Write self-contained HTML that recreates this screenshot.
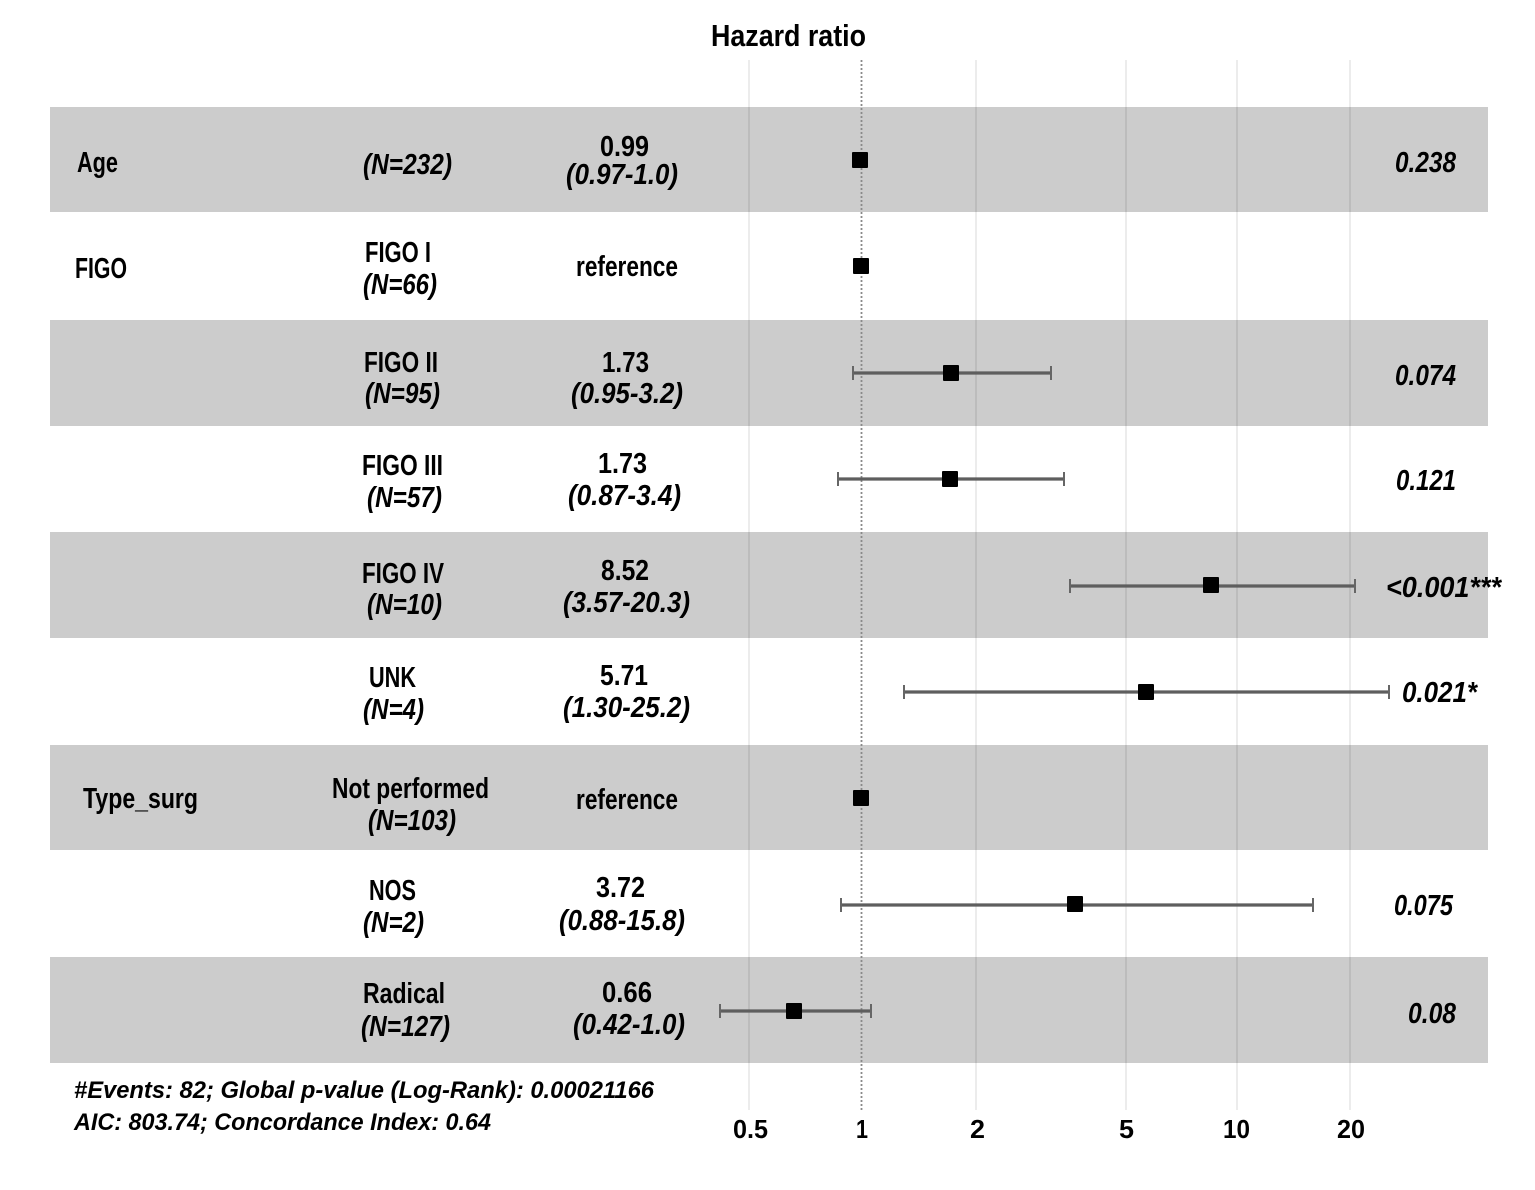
<!DOCTYPE html>
<html>
<head>
<meta charset="utf-8">
<style>
html,body{margin:0;padding:0;background:#fff;}
svg{display:block;}
text{font-family:"Liberation Sans Narrow","Liberation Sans",sans-serif;font-weight:bold;fill:#000;}
.i{font-style:italic;}
</style>
</head>
<body>
<svg width="1535" height="1190" viewBox="0 0 1535 1190" xmlns="http://www.w3.org/2000/svg">
<rect x="0" y="0" width="1535" height="1190" fill="#fff"/>
<!-- bands -->
<g fill="#cccccc">
<rect x="50" y="107" width="1438" height="105"/>
<rect x="50" y="320" width="1438" height="106"/>
<rect x="50" y="532" width="1438" height="106"/>
<rect x="50" y="745" width="1438" height="105"/>
<rect x="50" y="957" width="1438" height="106"/>
</g>
<!-- grid -->
<g stroke="rgba(0,0,0,0.1)" stroke-width="1.5">
<line x1="749" y1="60" x2="749" y2="1110"/>
<line x1="976" y1="60" x2="976" y2="1110"/>
<line x1="1126" y1="60" x2="1126" y2="1110"/>
<line x1="1237" y1="60" x2="1237" y2="1110"/>
<line x1="1350" y1="60" x2="1350" y2="1110"/>
</g>
<line x1="861.5" y1="60" x2="861.5" y2="1110" stroke="#8a8a8a" stroke-width="1.8" stroke-dasharray="2,2"/>

<!-- error bars -->
<g stroke="#5e5e5e" stroke-width="3.2" fill="none">
<line x1="853" y1="373" x2="1051" y2="373"/>
<line x1="838" y1="479" x2="1064" y2="479"/>
<line x1="1070" y1="586" x2="1355" y2="586"/>
<line x1="904" y1="692" x2="1389" y2="692"/>
<line x1="841" y1="905" x2="1313" y2="905"/>
<line x1="720" y1="1011" x2="871" y2="1011"/>
</g>
<g stroke="#666" stroke-width="2" fill="none">
<line x1="853" y1="366" x2="853" y2="380"/><line x1="1051" y1="366" x2="1051" y2="380"/>
<line x1="838" y1="472" x2="838" y2="486"/><line x1="1064" y1="472" x2="1064" y2="486"/>
<line x1="1070" y1="579" x2="1070" y2="593"/><line x1="1355" y1="579" x2="1355" y2="593"/>
<line x1="904" y1="685" x2="904" y2="699"/><line x1="1389" y1="685" x2="1389" y2="699"/>
<line x1="841" y1="898" x2="841" y2="912"/><line x1="1313" y1="898" x2="1313" y2="912"/>
<line x1="720" y1="1004" x2="720" y2="1018"/><line x1="871" y1="1004" x2="871" y2="1018"/>
</g>
<!-- markers -->
<g fill="#000">
<rect x="852" y="152" width="16" height="16" rx="1"/>
<rect x="853" y="258" width="16" height="16" rx="1"/>
<rect x="943" y="365" width="16" height="16" rx="1"/>
<rect x="942" y="471" width="16" height="16" rx="1"/>
<rect x="1203" y="577" width="16" height="16" rx="1"/>
<rect x="1138" y="684" width="16" height="16" rx="1"/>
<rect x="853" y="790" width="16" height="16" rx="1"/>
<rect x="1067" y="896" width="16" height="16" rx="1"/>
<rect x="786" y="1003" width="16" height="16" rx="1"/>
</g>

<!-- title -->
<text x="711" y="46" font-size="31" textLength="155" lengthAdjust="spacingAndGlyphs">Hazard ratio</text>

<g font-size="29">
<!-- Age -->
<text x="77" y="172" textLength="41" lengthAdjust="spacingAndGlyphs">Age</text>
<text class="i" x="363" y="174" textLength="89" lengthAdjust="spacingAndGlyphs">(N=232)</text>
<text x="600" y="156" textLength="49" lengthAdjust="spacingAndGlyphs">0.99</text>
<text class="i" x="566" y="184" textLength="112" lengthAdjust="spacingAndGlyphs">(0.97-1.0)</text>
<text class="i" x="1395" y="172" textLength="61" lengthAdjust="spacingAndGlyphs">0.238</text>

<!-- FIGO I -->
<text x="75" y="278" textLength="52" lengthAdjust="spacingAndGlyphs">FIGO</text>
<text x="365" y="262" textLength="66" lengthAdjust="spacingAndGlyphs">FIGO I</text>
<text class="i" x="363" y="294" textLength="74" lengthAdjust="spacingAndGlyphs">(N=66)</text>
<text x="576" y="276" textLength="102" lengthAdjust="spacingAndGlyphs">reference</text>

<!-- FIGO II -->
<text x="364" y="372" textLength="74" lengthAdjust="spacingAndGlyphs">FIGO II</text>
<text class="i" x="365" y="403" textLength="75" lengthAdjust="spacingAndGlyphs">(N=95)</text>
<text x="602" y="372" textLength="47" lengthAdjust="spacingAndGlyphs">1.73</text>
<text class="i" x="571" y="403" textLength="112" lengthAdjust="spacingAndGlyphs">(0.95-3.2)</text>
<text class="i" x="1395" y="385" textLength="61" lengthAdjust="spacingAndGlyphs">0.074</text>

<!-- FIGO III -->
<text x="362" y="475" textLength="81" lengthAdjust="spacingAndGlyphs">FIGO III</text>
<text class="i" x="367" y="507" textLength="75" lengthAdjust="spacingAndGlyphs">(N=57)</text>
<text x="598" y="473" textLength="49" lengthAdjust="spacingAndGlyphs">1.73</text>
<text class="i" x="568" y="505" textLength="113" lengthAdjust="spacingAndGlyphs">(0.87-3.4)</text>
<text class="i" x="1396" y="490" textLength="60" lengthAdjust="spacingAndGlyphs">0.121</text>

<!-- FIGO IV -->
<text x="362" y="583" textLength="82" lengthAdjust="spacingAndGlyphs">FIGO IV</text>
<text class="i" x="367" y="614" textLength="75" lengthAdjust="spacingAndGlyphs">(N=10)</text>
<text x="601" y="580" textLength="48" lengthAdjust="spacingAndGlyphs">8.52</text>
<text class="i" x="563" y="612" textLength="127" lengthAdjust="spacingAndGlyphs">(3.57-20.3)</text>
<text class="i" x="1386" y="597" textLength="115" lengthAdjust="spacingAndGlyphs">&lt;0.001***</text>

<!-- UNK -->
<text x="369" y="687" textLength="47" lengthAdjust="spacingAndGlyphs">UNK</text>
<text class="i" x="363" y="719" textLength="61" lengthAdjust="spacingAndGlyphs">(N=4)</text>
<text x="600" y="685" textLength="48" lengthAdjust="spacingAndGlyphs">5.71</text>
<text class="i" x="563" y="717" textLength="127" lengthAdjust="spacingAndGlyphs">(1.30-25.2)</text>
<text class="i" x="1402" y="702" textLength="75" lengthAdjust="spacingAndGlyphs">0.021*</text>

<!-- Type_surg -->
<text x="83" y="808" textLength="115" lengthAdjust="spacingAndGlyphs">Type_surg</text>
<text x="332" y="798" textLength="157" lengthAdjust="spacingAndGlyphs">Not performed</text>
<text class="i" x="368" y="830" textLength="88" lengthAdjust="spacingAndGlyphs">(N=103)</text>
<text x="576" y="809" textLength="102" lengthAdjust="spacingAndGlyphs">reference</text>

<!-- NOS -->
<text x="369" y="900" textLength="47" lengthAdjust="spacingAndGlyphs">NOS</text>
<text class="i" x="363" y="932" textLength="61" lengthAdjust="spacingAndGlyphs">(N=2)</text>
<text x="596" y="897" textLength="49" lengthAdjust="spacingAndGlyphs">3.72</text>
<text class="i" x="559" y="930" textLength="126" lengthAdjust="spacingAndGlyphs">(0.88-15.8)</text>
<text class="i" x="1394" y="915" textLength="59" lengthAdjust="spacingAndGlyphs">0.075</text>

<!-- Radical -->
<text x="363" y="1003" textLength="82" lengthAdjust="spacingAndGlyphs">Radical</text>
<text class="i" x="361" y="1036" textLength="89" lengthAdjust="spacingAndGlyphs">(N=127)</text>
<text x="602" y="1002" textLength="50" lengthAdjust="spacingAndGlyphs">0.66</text>
<text class="i" x="573" y="1034" textLength="112" lengthAdjust="spacingAndGlyphs">(0.42-1.0)</text>
<text class="i" x="1408" y="1023" textLength="48" lengthAdjust="spacingAndGlyphs">0.08</text>
</g>

<!-- footer -->
<g font-size="24">
<text class="i" x="74" y="1098" textLength="580" lengthAdjust="spacingAndGlyphs">#Events: 82; Global p-value (Log-Rank): 0.00021166</text>
<text class="i" x="74" y="1130" textLength="417" lengthAdjust="spacingAndGlyphs">AIC: 803.74; Concordance Index: 0.64</text>
</g>

<!-- ticks -->
<g font-size="26">
<text x="733" y="1138" textLength="35" lengthAdjust="spacingAndGlyphs">0.5</text>
<text x="856" y="1138" textLength="12" lengthAdjust="spacingAndGlyphs">1</text>
<text x="970" y="1138" textLength="15" lengthAdjust="spacingAndGlyphs">2</text>
<text x="1119" y="1138" textLength="15" lengthAdjust="spacingAndGlyphs">5</text>
<text x="1223" y="1138" textLength="27" lengthAdjust="spacingAndGlyphs">10</text>
<text x="1337" y="1138" textLength="28" lengthAdjust="spacingAndGlyphs">20</text>
</g>
</svg>
</body>
</html>
